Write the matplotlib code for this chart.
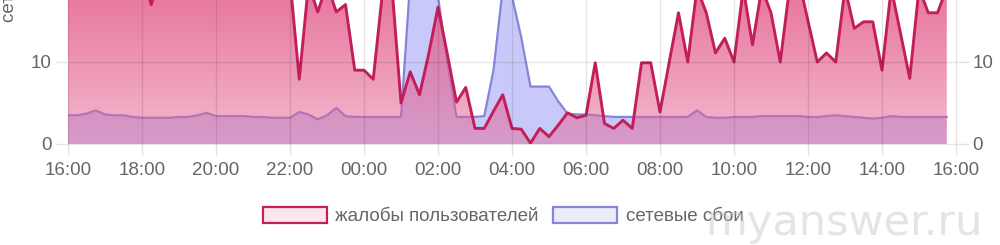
"""
Жалобы пользователей vs сетевые сбои — сутки, шаг 15 минут
Both series drawn as filled areas, complaints with a vertical pink gradient.
"""

import numpy as np
import matplotlib
matplotlib.use("Agg")
import matplotlib.pyplot as plt
from matplotlib.patches import Patch

# ─────────────────────────────────────────────────────────────
# DATA  (15-minute steps starting 16:00; values above ~17.5 are off-chart)
# ─────────────────────────────────────────────────────────────
STEP_HOURS = 0.25

COMPLAINTS = [
    21, 22, 21, 23, 22, 21, 22, 20, 21, 17.0,            # 16:00 - 18:15
    21, 22, 23, 22, 21, 22, 23, 22, 21, 22,              # 18:30 - 20:45
    23, 22, 21, 22, 20, 7.9, 19.5, 16.1, 19.5, 16.1,     # 21:00 - 23:15
    17.0, 9.0, 9.0, 7.9, 18.5, 19.5, 5.0, 8.8, 6.0, 11.0,  # 23:30 - 01:45
    16.7, 11.0, 5.1, 6.9, 1.9, 1.9, 4.0, 6.0, 1.9, 1.8,  # 02:00 - 04:15
    0.1, 1.9, 0.9, 2.3, 3.8, 3.2, 3.5, 9.9, 2.5, 1.9,    # 04:30 - 06:45
    2.9, 1.9, 9.9, 9.9, 3.9, 10.0, 16.0, 10.0, 19.0, 16.0,  # 07:00 - 09:15
    11.1, 12.9, 10.0, 19.0, 12.1, 19.0, 16.0, 10.0, 19.0, 20.0,  # 09:30 - 11:45
    15.0, 10.0, 11.1, 10.0, 19.0, 14.1, 14.9, 14.9, 9.0, 19.0,   # 12:00 - 14:15
    13.5, 8.0, 19.0, 16.0, 16.0, 19.0,                   # 14:30 - 15:45
]

FAILURES = [
    3.5, 3.5, 3.7, 4.1, 3.6, 3.5, 3.5, 3.3, 3.2, 3.2,
    3.2, 3.2, 3.3, 3.3, 3.5, 3.8, 3.4, 3.4, 3.4, 3.4,
    3.3, 3.3, 3.2, 3.2, 3.2, 3.9, 3.6, 3.0, 3.5, 4.4,
    3.4, 3.3, 3.3, 3.3, 3.3, 3.3, 3.3, 20.0, 22.0, 22.0,
    18.0, 10.0, 3.3, 3.3, 3.3, 3.4, 9.0, 19.0, 18.0, 13.0,
    7.0, 7.0, 7.0, 5.2, 3.7, 3.6, 3.6, 3.5, 3.4, 3.3,
    3.3, 3.3, 3.3, 3.3, 3.3, 3.3, 3.3, 3.3, 4.1, 3.3,
    3.2, 3.2, 3.3, 3.3, 3.3, 3.4, 3.4, 3.4, 3.4, 3.4,
    3.3, 3.3, 3.4, 3.5, 3.4, 3.3, 3.2, 3.1, 3.2, 3.4,
    3.3, 3.3, 3.3, 3.3, 3.3, 3.3,
]

TICK_HOURS  = list(range(0, 25, 2))
TICK_LABELS = ["16:00", "18:00", "20:00", "22:00", "00:00", "02:00", "04:00",
               "06:00", "08:00", "10:00", "12:00", "14:00", "16:00"]
Y_TICKS     = [0, 10]

LABEL_COMPLAINTS = "жалобы пользователей"
LABEL_FAILURES   = "сетевые сбои"

# ─────────────────────────────────────────────────────────────
# STYLE
# ─────────────────────────────────────────────────────────────
PINK_LINE   = "#c21f5a"
PINK_FILL   = (0.90, 0.39, 0.57)
BLUE_LINE   = "#8585dc"
BLUE_FILL   = (0.47, 0.47, 0.94, 0.40)
TEXT_COLOR  = "#666666"
TICK_COLOR  = "#e2e2e2"
Y_TOP       = 17.56
FONT_SIZE   = 13.5

plt.rcParams["font.family"] = ["Liberation Sans", "DejaVu Sans"]

x = np.arange(len(COMPLAINTS)) * STEP_HOURS
complaints = np.array(COMPLAINTS, dtype=float)
failures   = np.array(FAILURES, dtype=float)

fig = plt.figure(figsize=(10, 2.45), dpi=100)
ax  = fig.add_axes([0.068, 101 / 245, 0.888, 144 / 245])

# ─────────────────────────────────────────────────────────────
# SERIES
# ─────────────────────────────────────────────────────────────
ax.fill_between(x, failures, 0, facecolor=BLUE_FILL, edgecolor="none", zorder=1.0)
ax.plot(x, failures, color=BLUE_LINE, lw=1.6, solid_joinstyle="round", zorder=1.2)

# pink area with vertical gradient, clipped to the area under the line
poly = ax.fill_between(x, complaints, 0, facecolor="none", edgecolor="none")
alpha = np.linspace(0.45, 0.86, 256)
grad = np.zeros((256, 1, 4))
grad[:, 0, :3] = PINK_FILL
grad[:, 0, 3] = alpha
im = ax.imshow(grad, extent=[x[0], x[-1], 0, Y_TOP], origin="lower",
               aspect="auto", interpolation="bilinear", zorder=1.5)
im.set_clip_path(poly.get_paths()[0], transform=ax.transData)
ax.plot(x, complaints, color=PINK_LINE, lw=2.1, solid_joinstyle="round", zorder=2.0)

# ─────────────────────────────────────────────────────────────
# AXES
# ─────────────────────────────────────────────────────────────
ax.set_xlim(0, 24)
ax.set_ylim(0, Y_TOP)
ax.set_xticks(TICK_HOURS)
ax.set_xticklabels(TICK_LABELS)
ax.set_yticks(Y_TICKS)
for s in ax.spines.values():
    s.set_visible(False)
ax.set_axisbelow(False)
ax.grid(True, color="black", alpha=0.10, lw=1.0)
for gl in ax.get_xgridlines() + ax.get_ygridlines():
    gl.set_clip_on(False)
ax.tick_params(axis="x", length=8, width=1.0, color=TICK_COLOR, pad=5,
               labelsize=FONT_SIZE, labelcolor=TEXT_COLOR)
ax.tick_params(axis="y", length=9, width=1.0, color=TICK_COLOR, pad=3,
               labelsize=FONT_SIZE, labelcolor=TEXT_COLOR,
               right=True, labelright=True)

# y-axis title, mostly cut off at the top edge as in the source
fig.text(0.009, (245 - 22) / 245, "сетевые сбои, шт", rotation=90,
         ha="center", va="bottom", fontsize=FONT_SIZE, color=TEXT_COLOR)

# ─────────────────────────────────────────────────────────────
# LEGEND
# ─────────────────────────────────────────────────────────────
handles = [
    Patch(facecolor="#fde4ed", edgecolor=PINK_LINE, linewidth=1.6, label=LABEL_COMPLAINTS),
    Patch(facecolor="#ececfb", edgecolor=BLUE_LINE, linewidth=1.6, label=LABEL_FAILURES),
]
fig.legend(handles=handles, loc="center", bbox_to_anchor=(0.503, 29 / 245),
           ncol=2, frameon=False, fontsize=FONT_SIZE, labelcolor=TEXT_COLOR,
           handlelength=3.4, handleheight=1.0, handletextpad=0.45,
           columnspacing=0.8, borderpad=0)

# watermark over the legend, as in the source image
fig.text(0.844, 22 / 245, "myanswer.ru", ha="center", va="center",
         fontsize=31, color="#c4c4c4", alpha=0.45, family="DejaVu Sans",
         zorder=10)

fig.savefig("out.png", dpi=100)
plt.close(fig)
